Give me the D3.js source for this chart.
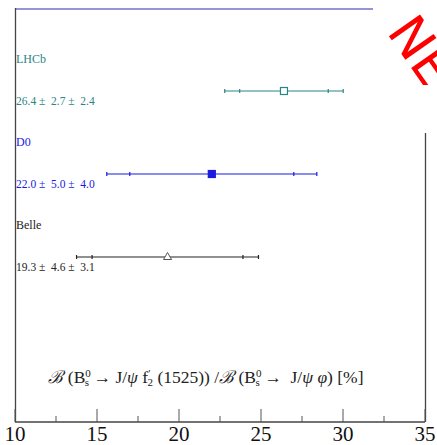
<html>
<head>
<meta charset="utf-8">
<script src="https://d3js.org/d3.v7.min.js"></script>
<style>
  body { margin: 0; background: #fff; }
  text { font-family: "Liberation Serif", "Times New Roman", serif; }
</style>
</head>
<body>
<div id="chart"></div>
<script>
// measurements (in %)
var experiments = ["LHCb", "D0", "Belle"];
var centralValues = [26.4, 22.0, 19.3];
var statErrors = [2.7, 5.0, 4.6];
var systErrors = [2.4, 4.0, 3.1];
var xTicks = [10, 15, 20, 25, 30, 35];

var colors = ["#2a8585", "#1a1ae0", "#222222"];
var markers = ["openSquare", "square", "openTriangle"];

var W = 437, H = 445;
var svg = d3.select("#chart").append("svg")
  .attr("width", W).attr("height", H);

var x = d3.scaleLinear().domain([10, 35]).range([15, 425]);
var y = d3.scalePoint().domain(experiments).range([91, 257]);
var axisY = 422;

// frame
svg.append("line").attr("x1", 15).attr("x2", 425).attr("y1", 9).attr("y2", 9)
  .style("stroke", "#9494d8").style("stroke-width", 2);
svg.append("line").attr("x1", 15.5).attr("x2", 15.5).attr("y1", 8).attr("y2", axisY)
  .style("stroke", "#444").style("stroke-width", 1.3);
svg.append("line").attr("x1", 425.5).attr("x2", 425.5).attr("y1", 8).attr("y2", axisY)
  .style("stroke", "#444").style("stroke-width", 1.3);

// bottom axis
var axis = svg.append("g").attr("transform", "translate(0," + axisY + ")");
axis.append("line").attr("x1", 15).attr("x2", 425).attr("y1", 0).attr("y2", 0)
  .style("stroke", "#444").style("stroke-width", 1.3);
axis.selectAll(".major").data(xTicks).enter().append("line")
  .attr("x1", function(d) { return x(d); }).attr("x2", function(d) { return x(d); })
  .attr("y1", 0).attr("y2", -13)
  .style("stroke", "#555").style("stroke-width", 1);
axis.selectAll(".minor").data(xTicks.slice(0, -1)).enter().append("line")
  .attr("x1", function(d) { return x(d + 2.5); }).attr("x2", function(d) { return x(d + 2.5); })
  .attr("y1", 0).attr("y2", -6)
  .style("stroke", "#555").style("stroke-width", 1);
axis.selectAll(".lbl").data(xTicks).enter().append("text")
  .attr("x", function(d) { return x(d); }).attr("y", 19)
  .attr("text-anchor", "middle")
  .style("font-size", "21px").style("fill", "#111")
  .text(function(d) { return d; });

// axis title
var title = svg.append("text").attr("x", 206).attr("y", 383)
  .attr("text-anchor", "middle").style("font-size", "17.5px").style("fill", "#222")
  .attr("xml:space", "preserve").style("white-space", "pre");
function sup(t, dy) { title.append("tspan").attr("dy", dy).style("font-size", "11px").text(t); }
title.append("tspan").style("font-style", "italic").text("\u212C");
title.append("tspan").text(" (B");
sup("0", -6);
title.append("tspan").attr("dx", -6).attr("dy", 9).style("font-size", "11px").text("s");
title.append("tspan").attr("dy", -3).text(" \u2192 J/");
title.append("tspan").style("font-style", "italic").text("\u03C8");
title.append("tspan").text(" f");
sup("\u2032", -6);
title.append("tspan").attr("dx", -3).attr("dy", 9).style("font-size", "11px").text("2");
title.append("tspan").attr("dy", -3).text(" (1525)) /");
title.append("tspan").style("font-style", "italic").text("\u212C");
title.append("tspan").text(" (B");
sup("0", -6);
title.append("tspan").attr("dx", -6).attr("dy", 9).style("font-size", "11px").text("s");
title.append("tspan").attr("dy", -3).text(" \u2192  J/");
title.append("tspan").style("font-style", "italic").text("\u03C8 \u03C6");
title.append("tspan").text(") [%]");

// measurements
var rows = svg.selectAll(".row").data(experiments).enter().append("g")
  .attr("class", "row");

rows.each(function(name, i) {
  var g = d3.select(this);
  var c = colors[i];
  var yy = y(name);
  var v = centralValues[i], st = statErrors[i], sy = systErrors[i];
  var tot = Math.sqrt(st * st + sy * sy);

  g.append("text").attr("x", 16).attr("y", yy - 28)
    .style("font-size", "12px").style("fill", c).text(name);
  g.append("text").attr("x", 16).attr("y", yy + 14)
    .style("font-size", "11.5px").style("fill", c)
    .attr("xml:space", "preserve").style("white-space", "pre")
    .text(v.toFixed(1) + " \u00B1  " + st.toFixed(1) + " \u00B1  " + sy.toFixed(1));

  g.append("line").attr("x1", x(v - tot)).attr("x2", x(v + tot))
    .attr("y1", yy).attr("y2", yy)
    .style("stroke", c).style("stroke-width", 1.2);
  [v - tot, v - st, v + st, v + tot].forEach(function(e) {
    g.append("line").attr("x1", x(e)).attr("x2", x(e))
      .attr("y1", yy - 2).attr("y2", yy + 2)
      .style("stroke", c).style("stroke-width", 1.2);
  });

  var m = markers[i];
  if (m === "openSquare" || m === "square") {
    g.append("rect").attr("x", x(v) - 3.5).attr("y", yy - 3.5)
      .attr("width", 7).attr("height", 7)
      .style("fill", m === "square" ? c : "#fff")
      .style("stroke", c).style("stroke-width", 1.2);
  } else {
    g.append("path")
      .attr("d", "M" + x(v) + "," + (yy - 4.5) + "L" + (x(v) + 4) + "," + (yy + 2.5) +
        "L" + (x(v) - 4) + "," + (yy + 2.5) + "Z")
      .style("fill", "#fff").style("stroke", "#555").style("stroke-width", 1);
  }
});

// "NEW" stamp in the corner
svg.append("clipPath").attr("id", "stampClip")
  .append("rect").attr("x", 373).attr("y", 0).attr("width", 64).attr("height", 85);
svg.append("rect").attr("x", 373).attr("y", 0).attr("width", 64).attr("height", 133)
  .style("fill", "#fff");
svg.append("g").attr("clip-path", "url(#stampClip)")
  .append("text")
  .attr("transform", "translate(386,32) rotate(55)")
  .style("font-family", "'DejaVu Sans', sans-serif")
  .style("font-size", "52px")
  .style("fill", "#ff0000")
  .text("NEW");
</script>
</body>
</html>
